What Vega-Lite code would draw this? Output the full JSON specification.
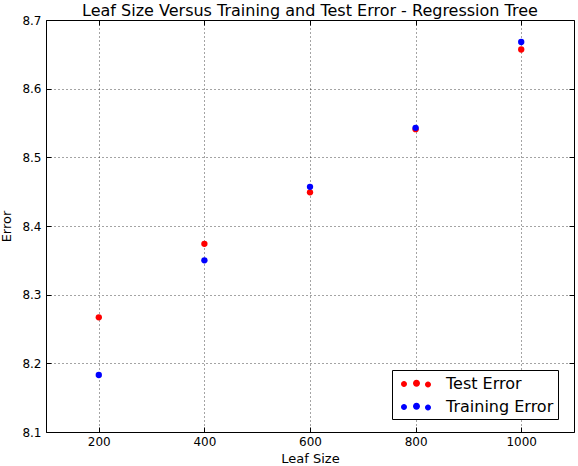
{
  "$schema": "https://vega.github.io/schema/vega-lite/v6.json",
  "width": 528,
  "height": 412,
  "autosize": "none",
  "padding": {"left": 46, "top": 20, "right": 4, "bottom": 34},
  "background": "white",
  "config": {
    "view": {"stroke": "black", "strokeWidth": 1},
    "font": "DejaVu Sans",
    "axis": {
      "labelFont": "DejaVu Sans",
      "labelFontSize": 12,
      "labelColor": "black",
      "titleFont": "DejaVu Sans",
      "titleFontSize": 13,
      "titleFontWeight": "normal",
      "titleColor": "black",
      "tickColor": "black",
      "tickSize": -5,
      "domain": false,
      "gridColor": "black",
      "gridDash": [1, 3],
      "gridWidth": 0.8,
      "gridOpacity": 0.9
    },
    "legend": {
      "labelFont": "DejaVu Sans",
      "labelFontSize": 16,
      "labelColor": "black"
    }
  },
  "title": {
    "text": "Leaf Size Versus Training and Test Error - Regression Tree",
    "font": "DejaVu Sans",
    "fontSize": 16,
    "fontWeight": "normal",
    "color": "black",
    "anchor": "middle",
    "offset": 1,
    "dy": 6
  },
  "data": {
    "values": [
      {"leaf_size": 200, "error": 8.267, "series": "Test Error"},
      {"leaf_size": 400, "error": 8.374, "series": "Test Error"},
      {"leaf_size": 600, "error": 8.449, "series": "Test Error"},
      {"leaf_size": 800, "error": 8.541, "series": "Test Error"},
      {"leaf_size": 1000, "error": 8.657, "series": "Test Error"},
      {"leaf_size": 200, "error": 8.183, "series": "Training Error"},
      {"leaf_size": 400, "error": 8.350, "series": "Training Error"},
      {"leaf_size": 600, "error": 8.457, "series": "Training Error"},
      {"leaf_size": 800, "error": 8.543, "series": "Training Error"},
      {"leaf_size": 1000, "error": 8.668, "series": "Training Error"}
    ]
  },
  "layer": [
    {
      "mark": {"type": "point", "filled": true, "size": 40, "opacity": 1},
      "encoding": {
        "x": {
          "field": "leaf_size",
          "type": "quantitative",
          "scale": {"domain": [100, 1100], "nice": false, "zero": false},
          "axis": {
            "orient": "bottom",
            "values": [200, 400, 600, 800, 1000],
            "format": "d",
            "grid": true,
            "labelPadding": 9,
            "title": "Leaf Size",
            "titlePadding": 5
          }
        },
        "y": {
          "field": "error",
          "type": "quantitative",
          "scale": {"domain": [8.1, 8.7], "nice": false, "zero": false},
          "axis": {
            "orient": "left",
            "values": [8.1, 8.2, 8.3, 8.4, 8.5, 8.6, 8.7],
            "format": ".1f",
            "grid": true,
            "labelPadding": 10,
            "title": "Error",
            "titlePadding": 8
          }
        },
        "color": {
          "field": "series",
          "type": "nominal",
          "scale": {"domain": ["Test Error", "Training Error"], "range": ["#ff0000", "#0000ff"]},
          "legend": {
            "title": null,
            "orient": "none",
            "legendX": 346,
            "legendY": 350,
            "fillColor": "white",
            "strokeColor": "black",
            "padding": 4,
            "rowPadding": 5,
            "symbolSize": 400,
            "symbolType": "M-1.5,0a0.3,0.3 0 1,0 0.6,0a0.3,0.3 0 1,0 -0.6,0ZM-0.3,-0.08a0.35,0.35 0 1,0 0.7,0a0.35,0.35 0 1,0 -0.7,0ZM0.9,0.05a0.3,0.3 0 1,0 0.6,0a0.3,0.3 0 1,0 -0.6,0Z",
            "symbolStrokeWidth": 0,
            "symbolOffset": 10,
            "labelOffset": 20
          }
        }
      }
    },
    {
      "mark": {"type": "point", "opacity": 0},
      "encoding": {
        "x": {
          "field": "leaf_size",
          "type": "quantitative",
          "axis": {"orient": "top", "values": [200, 400, 600, 800, 1000], "labels": false, "grid": false, "title": null}
        },
        "y": {
          "field": "error",
          "type": "quantitative",
          "axis": {"orient": "right", "values": [8.1, 8.2, 8.3, 8.4, 8.5, 8.6, 8.7], "labels": false, "grid": false, "title": null}
        }
      }
    }
  ]
}
